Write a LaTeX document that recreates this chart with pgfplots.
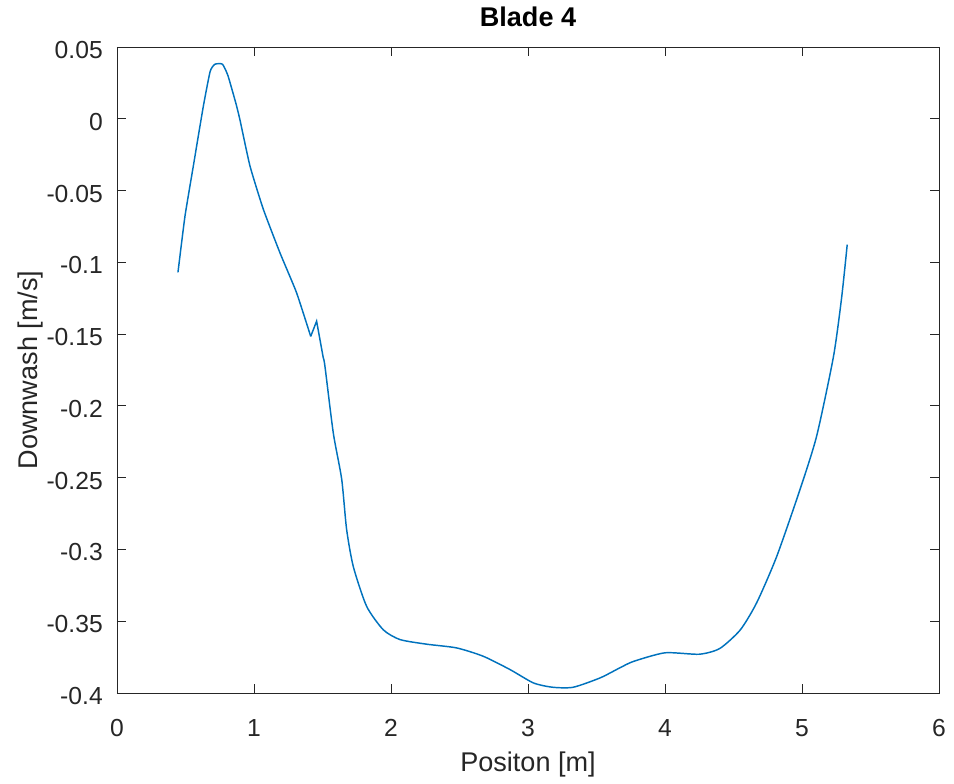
\documentclass[border=0pt]{standalone}
\usepackage{pgfplots}
\pgfplotsset{compat=1.18}
\usepackage{fontspec}
\setmainfont{Liberation Sans}
\definecolor{mblue}{rgb}{0,0.447,0.741}
\definecolor{axgray}{rgb}{0.15,0.15,0.15}
\begin{document}
\begin{tikzpicture}[x=0.75pt,y=0.75pt]
\path[use as bounding box] (-117,-91) rectangle (837,693);
\begin{axis}[
  at={(0,0)}, anchor=south west,
  scale only axis, width=616.5pt, height=484.5pt,
  xmin=0, xmax=6, ymin=-0.4, ymax=0.05,
  xtick={0,1,2,3,4,5,6},
  ytick={-0.4,-0.35,-0.3,-0.25,-0.2,-0.15,-0.1,-0.05,0,0.05},
  yticklabels={-0.4,-0.35,-0.3,-0.25,-0.2,-0.15,-0.1,-0.05,0,0.05},
  xticklabels={0,1,2,3,4,5,6},
  tick align=inside, tick pos=both,
  major tick length=7pt,
  axis line style={axgray, line width=0.6pt},
  every tick/.style={axgray, line width=0.6pt},
  tick label style={font=\fontsize{18.5}{20}\selectfont, text=axgray, inner sep=0pt},
  xticklabel style={anchor=base, yshift=-33pt},
  yticklabel style={anchor=east, xshift=-10.5pt, yshift=-2.25pt},
  label style={font=\fontsize{20.3}{22}\selectfont, text=axgray},
  xlabel={Positon [m]}, ylabel={Downwash [m/s]},
  xlabel style={at={(axis description cs:0.5,0)}, anchor=base, yshift=-59.25pt, inner sep=0pt},
  ylabel style={at={(axis description cs:-0.0973,0.5)}, anchor=base, inner sep=0pt},
  title={\textbf{Blade 4}},
  title style={at={(axis description cs:0.5,1)}, anchor=base, yshift=9pt, inner sep=0pt, font=\fontsize{20.3}{22}\selectfont, text=black},
  /pgf/number format/assume math mode=true,
]
\addplot[mblue, line width=1.1pt, smooth, tension=0.3] coordinates {
(0.445,-0.107) (0.496,-0.068) (0.557,-0.033) (0.63,0.0086) (0.68,0.033)
(0.715,0.038) (0.77,0.038) (0.81,0.030) (0.87,0.010) (0.898,-0.001) (0.971,-0.033)
(1.068,-0.063) (1.19,-0.0935) (1.31,-0.121) (1.414,-0.1516)
};
\addplot[mblue, line width=1.1pt] coordinates {(1.414,-0.1516) (1.457,-0.141) (1.506,-0.1667)};
\addplot[mblue, line width=1.1pt, smooth, tension=0.4] coordinates {
(1.506,-0.1667) (1.518,-0.1725) (1.579,-0.219) (1.64,-0.251) (1.676,-0.286)
(1.725,-0.312) (1.822,-0.3396) (1.944,-0.356) (2.066,-0.3628) (2.26,-0.366)
(2.479,-0.3686) (2.673,-0.3744) (2.869,-0.3837) (3.04,-0.393) (3.18,-0.396)
(3.33,-0.396) (3.526,-0.3895) (3.67,-0.3825) (3.77,-0.378) (4.0,-0.372)
(4.25,-0.373) (4.40,-0.369) (4.55,-0.356) (4.67,-0.337) (4.815,-0.305)
(4.985,-0.2584) (5.107,-0.221) (5.23,-0.1655) (5.29,-0.124) (5.33,-0.0877)
};
\end{axis}
\end{tikzpicture}
\end{document}
